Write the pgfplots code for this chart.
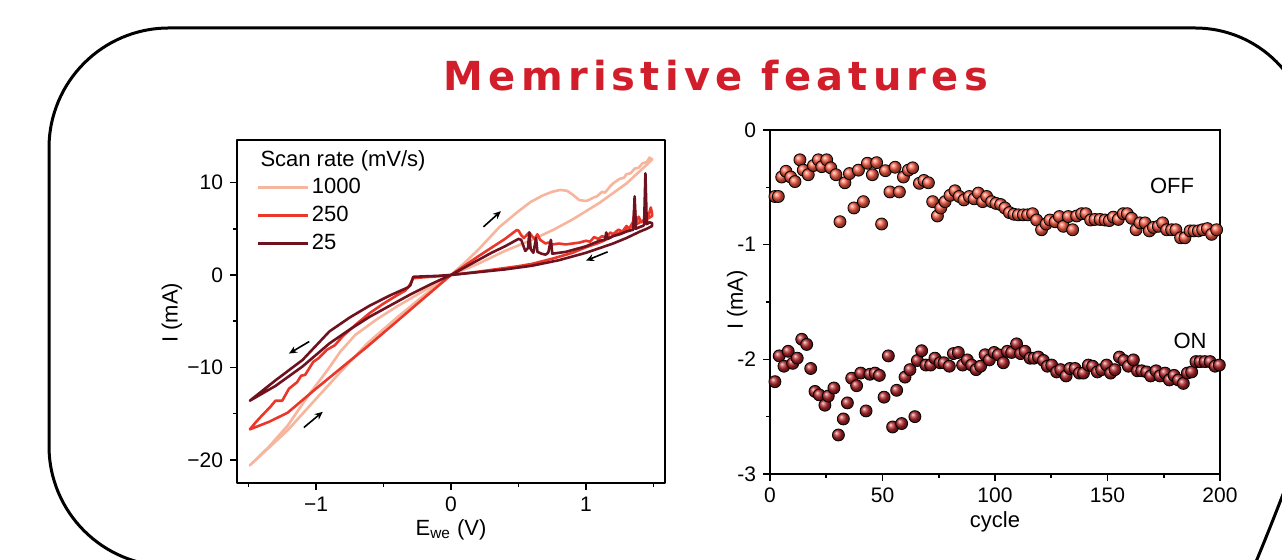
\documentclass[border=0pt]{standalone}
\usepackage{fontspec}
\setmainfont{Liberation Sans}
\newfontfamily\titlefont[LetterSpace=13]{DejaVu Sans}
\usepackage{pgfplots}
\pgfplotsset{compat=1.18}
\usetikzlibrary{arrows.meta}

\definecolor{cA}{HTML}{F7B59D}
\definecolor{cB}{HTML}{EA372A}
\definecolor{cC}{HTML}{6E1220}
\definecolor{offc}{HTML}{F85A42}
\definecolor{onc}{HTML}{B5272B}
\definecolor{titlec}{HTML}{D21E2A}

\newcommand{\fs}{\fontsize{10.5}{12}\selectfont}
\newcommand{\fl}{\fontsize{11}{13}\selectfont}

\pgfplotsset{
  myax/.style={
    scale only axis,
    tick align=outside, xtick pos=bottom, ytick pos=left,
    major tick length=3.5pt, minor tick length=2pt,
    major tick style={black, line width=0.8pt},
    minor tick style={black, line width=0.8pt},
    axis line style={line width=1pt},
    tick label style={font=\fs},
    label style={font=\fl},
    /pgf/number format/assume math mode=true,
  }
}

\begin{document}
\begin{tikzpicture}
% frame and title, in pixel units of the reference
\begin{scope}[yshift=280pt, x=0.5pt, y=-0.5pt]
\useasboundingbox (0,0) rectangle (1282,560);
\clip (0,0) rectangle (1282,560);
\draw[line width=1.5pt] (49,300)
  {[rounded corners=60pt] -- (49,28) -- (700,28)}
  {[rounded corners=57.5pt] -- (1310,28) -- (1310,330)}
  .. controls (1310,410) and (1285,500) .. (1235,610) -- (700,566)
  {[rounded corners=60pt] -- (49,566) -- (49,300)};
\node[anchor=base, text=titlec, font={\titlefont\bfseries\fontsize{20}{22}\selectfont}] at (716,91) {Memristive features};
\end{scope}

% ---- left: I-V loops
\begin{axis}[myax,
  at={(118.5pt,38.5pt)}, anchor=south west,
  width=214pt, height=171.5pt,
  xmin=-1.585, xmax=1.585, ymin=-22.5, ymax=14.6,
  xtick={-1,0,1}, xticklabels={−1,0,1},
  ytick={-20,-10,0,10}, yticklabels={−20,−10,0,10},
  minor xtick={-1.5,-0.5,0.5,1.5}, minor ytick={-15,-5,5},
  xlabel={E\textsubscript{we} (V)}, ylabel={I (mA)},
  xlabel style={at={(axis description cs:0.5,-0.137)}, anchor=center},
  ylabel style={at={(axis description cs:-0.152,0.496)}, anchor=center},
  legend style={at={(axis description cs:0.045,0.897)}, anchor=north west,
    draw=none, fill=none, font=\fl, row sep=2.2pt, inner sep=0pt,
    nodes={inner sep=1.3pt}},
  legend cell align=left,
  legend image code/.code={\draw[#1] (0pt,0pt) -- (25pt,0pt);},
  line join=round,
]
\addplot[cA, line width=1.3pt] coordinates {
  (0,0) (0.1,1.3) (0.2,2.7) (0.36,5.2) (0.5,6.9) (0.59,7.9) (0.68,8.6)
  (0.75,9.0) (0.81,9.2) (0.86,9.1) (0.9,8.7) (0.95,8.1) (1.0,8.0)
  (1.02,8.1) (1.06,8.4) (1.08,8.5) (1.12,9.0) (1.14,8.9) (1.18,9.6)
  (1.2,9.9) (1.23,10.2) (1.25,10.4) (1.28,10.5) (1.3,10.9) (1.33,11.0)
  (1.36,11.5) (1.39,11.6) (1.42,12.1) (1.45,12.2) (1.47,12.7) (1.49,12.5)
  (1.47,12.2) (1.3,9.9) (1.1,7.8) (0.9,6.0) (0.76,4.9) (0.6,3.8)
  (0.4,2.6) (0.2,1.2) (0,0)
  (-0.2,-1.7) (-0.4,-3.4) (-0.55,-4.8) (-0.71,-6.5) (-0.82,-8.3)
  (-0.92,-10.4) (-1.05,-12.9) (-1.21,-16.3) (-1.35,-18.6) (-1.49,-20.6)
  (-1.35,-18.7) (-1.21,-16.8) (-1.0,-13.4) (-0.8,-10.2) (-0.62,-7.4)
  (-0.4,-4.6) (-0.2,-2.2) (0,0)
};
\addlegendentry{1000}
\addplot[cB, line width=1.3pt] coordinates {
  (0,0) (0.1,1.0) (0.2,2.0) (0.3,2.95) (0.4,3.9) (0.487,4.86) (0.5,4.8)
  (0.52,4.3) (0.54,4.0) (0.56,4.3) (0.58,4.6) (0.6,4.2) (0.62,3.9)
  (0.64,4.4) (0.66,3.8) (0.68,3.6) (0.7,3.4) (0.72,3.5) (0.75,3.3)
  (0.8,3.4) (0.85,3.3) (0.9,3.4) (0.95,3.5) (1.0,3.7) (1.03,3.6)
  (1.06,4.1) (1.09,3.9) (1.12,4.2) (1.15,4.0) (1.18,4.6) (1.2,4.4)
  (1.24,4.9) (1.27,4.7) (1.3,5.3) (1.32,5.0) (1.35,5.8) (1.36,7.4)
  (1.37,5.6) (1.39,6.3) (1.41,5.7) (1.43,6.0) (1.45,5.8) (1.47,6.8)
  (1.48,7.3) (1.49,6.6)
  (1.49,6.4) (1.47,6.2) (1.4,5.7) (1.3,4.9) (1.2,4.2) (1.1,3.5)
  (1.0,3.0) (0.9,2.4) (0.76,1.8) (0.6,1.2) (0.5,0.95) (0.4,0.75)
  (0.3,0.55) (0.2,0.35) (0.1,0.18) (0,0)
  (-0.1,-0.15) (-0.2,-0.25) (-0.28,-0.35) (-0.31,-1.2) (-0.34,-1.7)
  (-0.4,-2.2) (-0.5,-3.1) (-0.6,-4.1) (-0.7,-5.3) (-0.8,-6.6)
  (-0.86,-7.6) (-0.92,-8.1) (-0.98,-9.0) (-1.02,-9.4) (-1.08,-10.8)
  (-1.11,-10.9) (-1.14,-11.6) (-1.2,-12.3) (-1.25,-13.6) (-1.3,-13.6)
  (-1.34,-14.3) (-1.4,-15.2) (-1.45,-16.0) (-1.49,-16.7)
  (-1.35,-15.9) (-1.21,-14.9) (-1.0,-12.3) (-0.8,-9.9) (-0.62,-7.75)
  (-0.4,-5.0) (-0.2,-2.5) (0,0)
};
\addlegendentry{250}
\addplot[cC, line width=1.3pt] coordinates {
  (0,0) (0.1,0.8) (0.2,1.6) (0.3,2.4) (0.4,3.1) (0.5,3.9) (0.52,3.8)
  (0.55,2.6) (0.57,2.9) (0.58,4.6) (0.59,2.8) (0.61,2.4) (0.63,4.0)
  (0.64,2.5) (0.67,2.3) (0.7,2.2) (0.72,2.4) (0.74,3.8) (0.75,2.3)
  (0.8,2.4) (0.85,2.5) (0.9,2.7) (0.95,2.9) (1.0,3.1) (1.05,3.4)
  (1.1,3.7) (1.14,3.8) (1.15,4.6) (1.16,3.9) (1.2,4.2) (1.25,4.4)
  (1.3,4.7) (1.35,4.9) (1.36,8.5) (1.37,5.0) (1.4,5.2) (1.42,5.3)
  (1.43,5.4) (1.44,11.0) (1.45,5.5) (1.47,5.7) (1.49,5.6)
  (1.49,5.3) (1.45,5.0) (1.4,4.7) (1.3,4.0) (1.2,3.4) (1.1,2.9)
  (1.0,2.4) (0.9,2.0) (0.8,1.6) (0.7,1.3) (0.6,1.0) (0.5,0.8)
  (0.4,0.6) (0.3,0.45) (0.2,0.3) (0.1,0.15) (0,0)
  (-0.1,-0.1) (-0.2,-0.15) (-0.28,-0.2) (-0.3,-1.1) (-0.32,-1.35)
  (-0.45,-2.2) (-0.6,-3.3) (-0.75,-4.6) (-0.9,-6.1) (-1.1,-9.2)
  (-1.3,-11.4) (-1.49,-13.6)
  (-1.3,-12.0) (-1.1,-9.9) (-0.9,-7.4) (-0.75,-5.9) (-0.6,-4.5)
  (-0.45,-3.3) (-0.3,-2.1) (-0.15,-1.0) (0,0)
};
\addlegendentry{25}
\node[anchor=west, font=\fl, inner sep=0pt] at (axis description cs:0.054,0.938) {Scan rate (mV/s)};
\draw[-{Stealth[length=4pt,width=3.5pt]}, line width=0.8pt] (axis cs:0.24,5.2) -- (axis cs:0.37,6.9);
\draw[-{Stealth[length=4pt,width=3.5pt]}, line width=0.8pt] (axis cs:-1.09,-16.5) -- (axis cs:-0.95,-14.8);
\draw[-{Stealth[length=4pt,width=3.5pt]}, line width=0.8pt] (axis cs:-1.05,-7.2) -- (axis cs:-1.2,-8.5);
\draw[-{Stealth[length=4pt,width=3.5pt]}, line width=0.8pt] (axis cs:1.16,2.5) -- (axis cs:1.0,1.55);
\end{axis}

% ---- right: ON/OFF currents over cycles
\begin{axis}[myax,
  at={(385pt,43pt)}, anchor=south west,
  width=225pt, height=172pt,
  xmin=0, xmax=200, ymin=-3, ymax=0,
  xtick={0,50,100,150,200}, xticklabels={0,50,100,150,200},
  ytick={-3,-2,-1,0}, yticklabels={-3,-2,-1,0},
  minor xtick={25,75,125,175}, minor ytick={-2.5,-1.5,-0.5},
  xlabel={cycle}, ylabel={I (mA)},
  xlabel style={at={(axis description cs:0.5,-0.14)}, anchor=center},
  ylabel style={at={(axis description cs:-0.073,0.506)}, anchor=center},
]
\addplot[only marks, mark=ball, mark size=3pt, mark options={ball color=offc}] coordinates {
  (2.2,-0.58) (3.7,-0.58) (5.2,-0.41) (7.1,-0.36) (9.2,-0.41) (11.1,-0.45)
  (13.3,-0.26) (14.8,-0.35) (17,-0.39) (19.3,-0.31) (21.5,-0.26) (23,-0.32)
  (25.2,-0.26) (27,-0.33) (29.3,-0.39) (31.1,-0.80) (33.3,-0.46) (35.3,-0.38)
  (37.3,-0.68) (39.3,-0.35) (41.5,-0.625) (43.3,-0.29) (45.5,-0.39) (47.4,-0.285)
  (49.6,-0.82) (51.3,-0.355) (53.3,-0.54) (55.6,-0.325) (57.5,-0.54) (59.3,-0.41)
  (61.5,-0.35) (63.4,-0.33) (66.4,-0.465) (68.4,-0.44) (70.4,-0.46) (72.3,-0.625)
  (74.4,-0.75) (75.9,-0.68) (77.8,-0.625) (80,-0.57) (82.2,-0.53) (84.1,-0.58)
  (86.2,-0.61) (88.6,-0.58) (90.7,-0.6) (92.6,-0.55) (94.5,-0.625) (96.3,-0.58)
  (98.5,-0.625) (100.4,-0.64) (102.5,-0.65) (104.4,-0.68) (106.4,-0.72) (108.4,-0.735)
  (110.4,-0.74) (112.6,-0.74) (114.5,-0.74) (116.7,-0.73) (118.5,-0.785) (120.7,-0.87)
  (122.7,-0.82) (124.4,-0.785) (126.7,-0.80) (128.6,-0.755) (130.4,-0.84) (132.6,-0.755)
  (134.5,-0.87) (136.3,-0.75) (138.5,-0.73) (140.4,-0.73) (142.5,-0.785) (144.4,-0.78)
  (146.7,-0.78) (148.9,-0.785) (150.8,-0.79) (152.6,-0.76) (154.8,-0.78) (157,-0.73)
  (158.8,-0.73) (160.7,-0.77) (162.7,-0.87) (164.4,-0.81) (166.7,-0.81) (168.6,-0.88)
  (170.4,-0.85) (172.6,-0.84) (174.5,-0.81) (176.3,-0.87) (178.5,-0.87) (180.4,-0.87)
  (182.5,-0.94) (184.4,-0.94) (186.7,-0.88) (188.4,-0.88) (190.4,-0.88) (192.3,-0.87)
  (194.4,-0.86) (196.3,-0.91) (198.5,-0.87)
};
\addplot[only marks, mark=ball, mark size=3pt, mark options={ball color=onc}] coordinates {
  (2.2,-2.195) (4.1,-1.97) (6.2,-2.06) (8.1,-1.93) (10.1,-2.035) (12.1,-1.99)
  (14.1,-1.825) (16.3,-1.87) (18.1,-2.08) (20,-2.28) (21.9,-2.31) (24.4,-2.40)
  (25.9,-2.32) (28.4,-2.25) (30.4,-2.66) (32.6,-2.52) (34.4,-2.38) (36.3,-2.165)
  (38.5,-2.23) (40.3,-2.12) (42.7,-2.45) (44.4,-2.13) (46.7,-2.12) (48.6,-2.14)
  (50.7,-2.33) (52.6,-1.97) (54.5,-2.59) (56.3,-2.27) (58.5,-2.56) (60,-2.155)
  (62.2,-2.09) (64.4,-2.50) (65.5,-2.01) (67.4,-1.925) (69.3,-2.05) (71.4,-2.05)
  (73.3,-1.99) (75.6,-2.03) (77.3,-2.03) (79.7,-2.06) (81.5,-1.95) (83.7,-1.94)
  (85.6,-2.05) (87.7,-2.005) (89.6,-2.05) (91.6,-2.09) (93.6,-2.06) (95.6,-1.96)
  (97.5,-2.005) (99.6,-1.94) (101.5,-1.96) (103.7,-2.03) (105.5,-1.93) (107.4,-1.94)
  (109.6,-1.865) (111.4,-1.95) (113.3,-1.93) (115.6,-1.99) (117.3,-1.99) (119.3,-1.98)
  (121.5,-2.01) (123.3,-2.06) (125.2,-2.05) (127.4,-2.11) (129.2,-2.09) (131.6,-2.145)
  (133.3,-2.08) (135.6,-2.08) (137.5,-2.12) (139.3,-2.12) (141.5,-2.05) (143.4,-2.06)
  (145.5,-2.11) (147.4,-2.09) (149.6,-2.05) (151.4,-2.12) (153.3,-2.09) (155.3,-1.98)
  (157.3,-2.01) (159.3,-2.06) (161.5,-2.005) (163.3,-2.10) (165.2,-2.10) (167.4,-2.11)
  (169.2,-2.145) (171.6,-2.10) (173.3,-2.145) (175.6,-2.12) (177.5,-2.18) (179.6,-2.14)
  (181.5,-2.18) (183.7,-2.21) (185.5,-2.12) (187.4,-2.11) (189.3,-2.02) (191.1,-2.02)
  (193.3,-2.02) (195.6,-2.02) (197.8,-2.06) (199.7,-2.05)
};
\node[font=\fl] at (axis cs:178.7,-0.49) {OFF};
\node[font=\fl] at (axis cs:186.7,-1.84) {ON};
\end{axis}
\end{tikzpicture}
\end{document}
